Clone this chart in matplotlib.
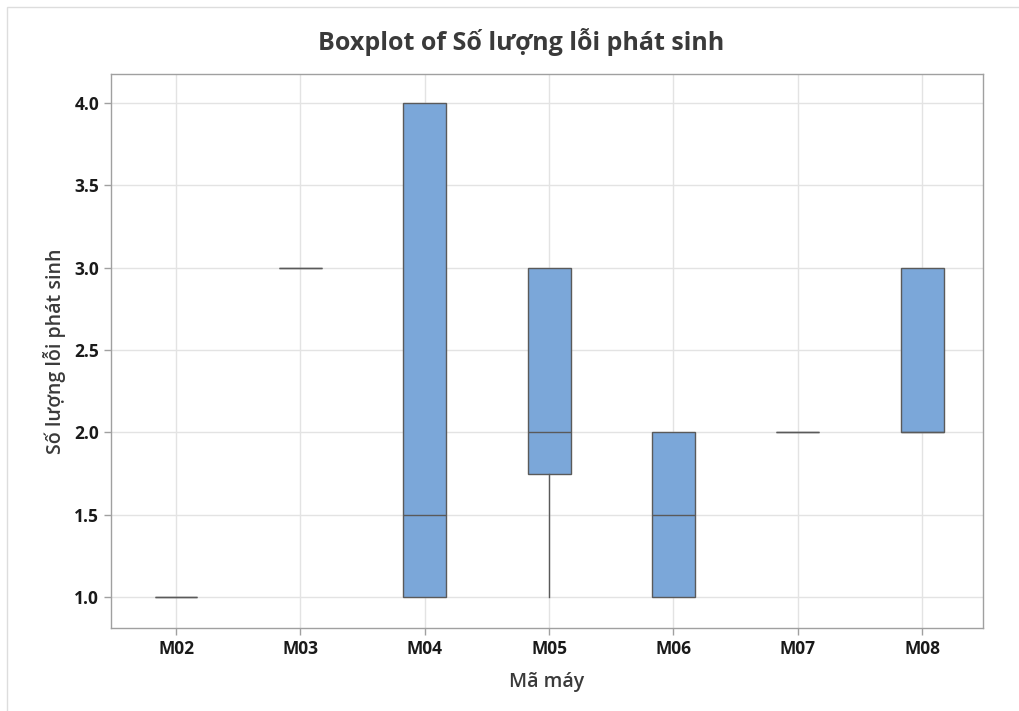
import numpy as np
import matplotlib.pyplot as plt
from matplotlib.patches import Rectangle

machines = ['M02', 'M03', 'M04', 'M05', 'M06', 'M07', 'M08']
q1 = [1.0, 3.0, 1.0, 1.75, 1.0, 2.0, 2.0]
med = [1.0, 3.0, 1.5, 2.0, 1.5, 2.0, 2.0]
q3 = [1.0, 3.0, 4.0, 3.0, 2.0, 2.0, 3.0]
wlo = [1.0, 3.0, 1.0, 1.0, 1.0, 2.0, 2.0]
whi = [1.0, 3.0, 4.0, 3.0, 2.0, 2.0, 3.0]
yticks = [1.0, 1.5, 2.0, 2.5, 3.0, 3.5, 4.0]

plt.rcParams['font.family'] = ['Open Sans', 'DejaVu Sans']

stats = []
for i in range(len(machines)):
    stats.append(dict(label=machines[i], q1=q1[i], med=med[i], q3=q3[i],
                      whislo=wlo[i], whishi=whi[i], fliers=[]))

fig = plt.figure(figsize=(10.19, 7.11), dpi=100)
ax = fig.add_axes([111/1019, 1-628/711, (983-111)/1019, (628-74)/711])

edge = '#5a5a5a'
ax.bxp(stats, positions=np.arange(1, 8), widths=0.345, showcaps=False,
       patch_artist=True, manage_ticks=False,
       boxprops=dict(facecolor='#7BA7D9', edgecolor=edge, linewidth=1.0),
       medianprops=dict(color=edge, linewidth=1.0),
       whiskerprops=dict(color=edge, linewidth=1.0), zorder=3)

ax.set_xlim(0.477, 7.49)
ax.set_ylim(0.812, 4.176)
ax.set_xticks(np.arange(1, 8))
ax.set_xticklabels(machines)
ax.set_yticks(yticks)
ax.set_yticklabels(['%.1f' % v for v in yticks])
ax.grid(True, color='#e3e3e3', linewidth=1.0, zorder=0)
ax.set_axisbelow(True)
for s in ax.spines.values():
    s.set_color('#a0a0a0')
    s.set_linewidth(1.0)
ax.tick_params(axis='both', colors='#a0a0a0', labelcolor='#1a1a1a',
               labelsize=12.5, length=5, width=1)
for lab in ax.get_xticklabels() + ax.get_yticklabels():
    lab.set_fontweight('bold')

ax.set_xlabel('Mã máy', fontsize=14, color='#3a3a3a', labelpad=10, fontweight='semibold')
ax.set_ylabel('Số lượng lỗi phát sinh', fontsize=14, color='#3a3a3a', labelpad=6,
              fontweight='semibold')
fig.text(0.511, 1-42/711, 'Boxplot of Số lượng lỗi phát sinh', ha='center', va='center',
         fontsize=18, color='#3a3a3a', fontweight='bold')

fig.patches.append(Rectangle((7/1019, -0.1), 1.2, 1-7/711+0.1, transform=fig.transFigure,
                             fill=False, edgecolor='#dddddd', linewidth=1.0))

fig.savefig('out.png', dpi=100)
